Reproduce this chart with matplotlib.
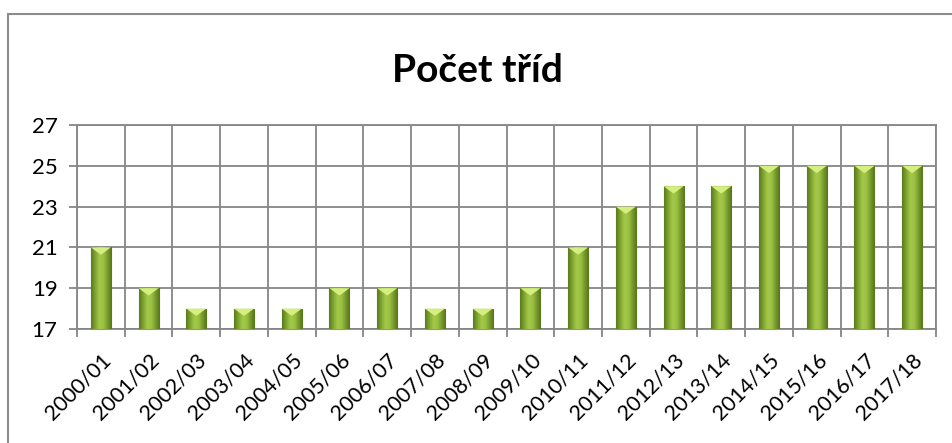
import matplotlib
matplotlib.use("Agg")
import matplotlib.pyplot as plt
import numpy as np
from matplotlib.patches import Rectangle, Polygon
from matplotlib.colors import LinearSegmentedColormap

# data
years = ["2000/01", "2001/02", "2002/03", "2003/04", "2004/05", "2005/06",
         "2006/07", "2007/08", "2008/09", "2009/10", "2010/11", "2011/12",
         "2012/13", "2013/14", "2014/15", "2015/16", "2016/17", "2017/18"]
classes = [21, 19, 18, 18, 18, 19, 19, 18, 18, 19, 21, 23, 24, 24, 25, 25, 25, 25]
title = "Počet tříd"

plt.rcParams['font.family'] = ['Lato', 'DejaVu Sans']

W, H = 952, 443
fig = plt.figure(figsize=(W / 100, H / 100), dpi=100)
ax = fig.add_axes([77 / W, 1 - 329 / H, (936 - 77) / W, (329 - 125) / H])

grid_col = "#868686"
base = 17
bw = 0.42

# bars: plain bar first, gradient and top cap on top of it
x = np.arange(len(years))
bars = ax.bar(x, [v - base for v in classes], bottom=base, width=bw,
              color="#8DB03A", edgecolor="#5F7F22", linewidth=0.8, zorder=3)

cmap = LinearSegmentedColormap.from_list(
    "cyl", ["#5A7A1E", "#7FA42F", "#A3C84A", "#9CC243", "#78992C", "#55741C"])
grad = np.linspace(0, 1, 64).reshape(1, -1)
for b, v in zip(bars, classes):
    x0 = b.get_x()
    x1 = x0 + b.get_width()
    im = ax.imshow(grad, cmap=cmap, extent=(x0, x1, base, v), aspect="auto",
                   zorder=3.5, interpolation="bicubic")
    im.set_clip_path(b)
    xc = (x0 + x1) / 2
    cap = Polygon([(x0, v), (x1, v), (xc, v - 0.36)], closed=True,
                  facecolor="#D4EE80", edgecolor="none", zorder=4)
    ax.add_patch(cap)

ax.set_xlim(-0.5, len(years) - 0.5)
ax.set_ylim(17, 27)
ax.set_yticks(range(17, 28, 2))
ax.set_xticks(x)
ax.set_xticklabels(years, rotation=45, ha="right", rotation_mode="anchor")
ax.set_xticks(np.arange(-0.5, len(years), 1), minor=True)

ax.tick_params(axis="x", which="major", length=0, labelsize=15.5, pad=15)
ax.tick_params(axis="x", which="minor", length=6, width=1.3, color=grid_col)
ax.tick_params(axis="y", length=6, width=1.3, color=grid_col, labelsize=16, pad=8)

ax.grid(axis="y", which="major", color=grid_col, linewidth=1.3, zorder=0)
ax.grid(axis="x", which="minor", color=grid_col, linewidth=1.3, zorder=0)
ax.set_axisbelow(True)
for s in ax.spines.values():
    s.set_color(grid_col)
    s.set_linewidth(1.3)

fig.text(477 / W, 1 - 70 / H, title, ha="center", va="center",
         fontsize=28, fontweight="bold")

# outer chart frame (right and bottom sides fall outside the image)
fig.patches.append(Rectangle((8 / W, -0.1), 1.2, 1 - 14 / H + 0.1,
                             transform=fig.transFigure, fill=False,
                             edgecolor="#8C8C8C", linewidth=1.5))

fig.savefig("out.png", dpi=100)
